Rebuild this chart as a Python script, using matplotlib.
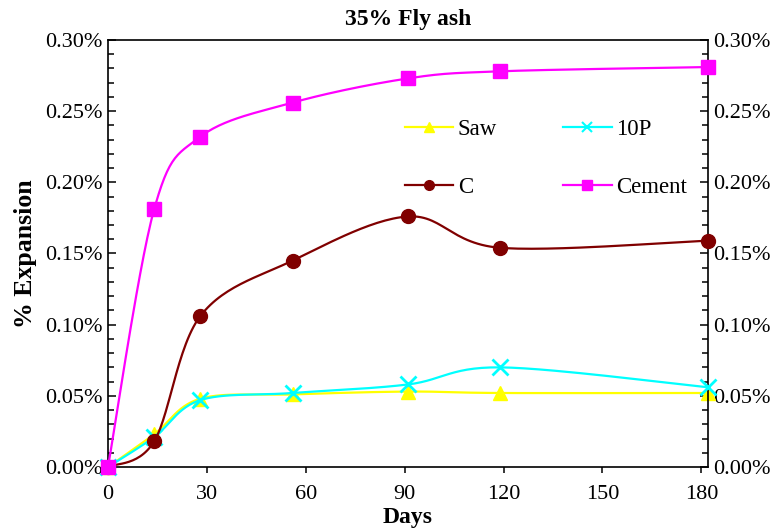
import numpy as np
import matplotlib.pyplot as plt
from matplotlib.ticker import MultipleLocator, FuncFormatter

plt.rcParams["font.family"] = ["Liberation Serif", "DejaVu Serif"]

# Expansion readings (percent) at each test age
days = [0, 14, 28, 56, 91, 119, 182]
saw = [0.0, 0.023, 0.048, 0.051, 0.053, 0.052, 0.052]
p10 = [0.0, 0.021, 0.047, 0.052, 0.058, 0.070, 0.056]
c_mix = [0.0, 0.018, 0.106, 0.145, 0.176, 0.154, 0.159]
cement = [0.0, 0.181, 0.232, 0.256, 0.273, 0.278, 0.281]


def smooth(x, y, n=30):
    """Spreadsheet-style smoothed line: cubic Bezier through the points."""
    p = np.column_stack([x, y]).astype(float)
    out = [p[:1]]
    t = np.linspace(0, 1, n)[1:, None]
    for i in range(len(p) - 1):
        p0 = p[max(i - 1, 0)]
        p1, p2 = p[i], p[i + 1]
        p3 = p[min(i + 2, len(p) - 1)]
        b1 = p1 + (p2 - p0) / 6
        b2 = p2 - (p3 - p1) / 6
        seg = ((1 - t) ** 3 * p1 + 3 * (1 - t) ** 2 * t * b1
               + 3 * (1 - t) * t ** 2 * b2 + t ** 3 * p2)
        out.append(seg)
    pts = np.vstack(out)
    return pts[:, 0], pts[:, 1]


fig = plt.figure(figsize=(7.79, 5.31), dpi=100)
ax = fig.add_axes([0.1386, 0.1205, 0.7702, 0.8042])

series = [
    ("Saw", saw, "#FFFF00", "^", dict(ms=10), 2),
    ("10P", p10, "#00FFFF", "x", dict(ms=11, mew=2), 3),
    ("C", c_mix, "#800000", "o", dict(ms=10), 4),
    ("Cement", cement, "#FF00FF", "s", dict(ms=10), 5),
]

handles = {}
for name, vals, col, mk, mkw, z in series:
    xs, ys = smooth(days, vals)
    ax.plot(xs, ys, color=col, lw=1.6, zorder=z)
    ax.plot(days, vals, ls="none", marker=mk, color=col, zorder=z + 0.5,
            clip_on=False, **mkw)
    handles[name] = ax.plot([], [], color=col, lw=1.6, marker=mk, ms=7,
                            mew=1.5 if mk == "x" else 1)[0]

order = ["Saw", "C", "10P", "Cement"]
ax.legend([handles[k] for k in order], order, ncol=2, frameon=False,
          loc="upper left", bbox_to_anchor=(0.495, 0.815), borderpad=0,
          borderaxespad=0, handlelength=2.1, handletextpad=0.2,
          labelspacing=1.6, columnspacing=2.9, fontsize=16.5)

ax.set_xlim(0, 182)
ax.set_ylim(0, 0.30)
ax.set_xticks([0, 30, 60, 90, 120, 150, 180])
ax.yaxis.set_major_locator(MultipleLocator(0.05))
ax.yaxis.set_minor_locator(MultipleLocator(0.01))
ax.yaxis.set_major_formatter(FuncFormatter(lambda v, _: f"{v:.2f}%"))

ax.tick_params(axis="y", which="both", direction="in", left=True,
               right=True, labelleft=True, labelright=True, labelsize=16,
               width=1.1, pad=4)
ax.tick_params(axis="y", which="major", length=6)
ax.tick_params(axis="y", which="minor", length=4)
ax.tick_params(axis="x", direction="out", length=4, width=1.1,
               labelsize=16, pad=9)
for sp in ax.spines.values():
    sp.set_linewidth(1.2)

ax.set_title("35% Fly ash", fontsize=17, fontweight="bold", pad=11)
ax.set_xlabel("Days", fontsize=17, fontweight="bold", labelpad=2)
ax.set_ylabel("% Expansion", fontsize=18.5, fontweight="bold", labelpad=6)

fig.savefig("out.png", dpi=100)
